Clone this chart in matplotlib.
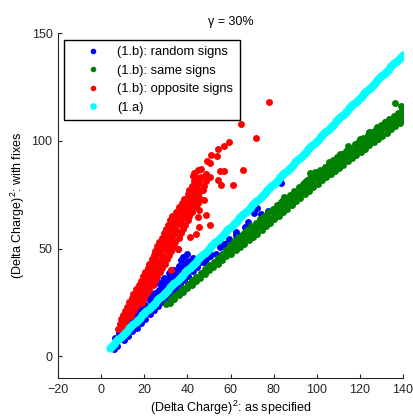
import matplotlib.pyplot as plt

plt.rcParams['font.family'] = ['Liberation Sans', 'DejaVu Sans']
plt.rcParams['mathtext.fontset'] = 'custom'
plt.rcParams['mathtext.rm'] = 'Liberation Sans'

# (1.b): random signs  -- (x, y) pairs
random_pts = [
    (6.0, 3.5), (7.5, 5.0), (6.5, 8.5), (8.5, 11.0), (10.5, 13.4), (12.5, 15.6),
    (14.5, 17.8), (16.5, 19.6), (18.5, 21.9), (20.5, 23.7), (22.5, 26.0), (24.5, 27.8),
    (26.5, 29.9), (28.5, 32.2), (30.5, 33.8), (32.5, 36.1), (34.5, 38.0), (36.5, 40.2),
    (38.5, 41.9), (40.5, 44.3), (42.5, 45.8),
    (12.4, 17.5), (15.5, 21.5), (17.8, 24.5), (20.1, 27.0), (22.5, 29.5), (24.7, 33.5),
    (26.0, 34.5), (27.8, 33.0), (29.0, 36.5), (30.9, 36.1), (32.5, 39.9), (34.0, 40.0),
    (35.6, 50.0), (37.0, 44.5), (39.4, 43.0), (33.0, 37.5), (36.0, 42.0), (38.0, 46.0),
    (40.0, 47.5), (27.0, 31.0), (25.0, 29.5), (23.0, 27.5), (31.5, 38.5), (28.5, 34.8),
    (10.5, 7.7), (12.5, 9.4), (14.5, 11.6), (16.5, 13.4), (18.5, 15.5), (20.5, 17.4),
    (22.5, 19.6), (24.5, 21.4), (26.5, 23.5), (28.5, 25.4), (30.5, 27.6), (32.5, 29.4),
    (34.5, 31.5), (36.5, 33.4), (38.5, 35.6), (40.5, 37.4), (42.5, 39.5), (44.5, 41.4),
    (46.5, 43.6), (48.5, 45.4), (50.5, 47.5),
    (47.9, 44.0), (50.3, 46.5), (53.4, 47.7), (54.9, 50.8), (57.2, 52.3), (58.8, 53.1),
    (59.5, 54.5), (62.6, 56.2), (62.6, 57.8), (65.0, 55.7), (66.5, 60.0), (68.0, 62.5),
    (71.1, 66.7), (72.2, 68.9), (71.6, 60.4), (74.0, 66.0), (77.6, 67.3), (84.3, 72.5),
    (83.5, 80.5),
]

# (1.b): same signs
same_pts = [
    (30.0, 24.2), (32.0, 25.0), (32.2, 26.8), (34.0, 26.7), (34.1, 28.4),
    (36.0, 28.3), (36.2, 30.1), (38.0, 30.0), (38.1, 31.9), (40.0, 31.6), (40.2, 33.5),
    (42.0, 33.3), (42.1, 35.3), (44.0, 35.0), (44.2, 37.0), (46.0, 36.6), (46.1, 38.7),
    (48.0, 38.2), (48.2, 40.5), (50.0, 39.9), (50.1, 42.2), (52.0, 41.5), (52.2, 44.0),
    (54.0, 43.1), (54.1, 45.8), (56.0, 44.8), (56.2, 47.5), (58.0, 46.5), (58.1, 49.2),
    (60.4, 47.6), (60.0, 49.8), (59.6, 51.9), (62.4, 49.2), (62.0, 51.4), (61.6, 53.6),
    (64.4, 50.8), (64.0, 53.0), (63.6, 55.3), (66.4, 52.2), (66.0, 54.6), (65.6, 57.0),
    (68.4, 53.8), (68.0, 56.2), (67.6, 58.6), (70.4, 55.4), (70.0, 57.8), (69.6, 60.3),
    (72.4, 57.0), (72.0, 59.5), (71.6, 61.9), (74.4, 58.7), (74.0, 61.1), (73.6, 63.6),
    (76.4, 60.3), (76.0, 62.8), (75.6, 65.2), (78.4, 62.0), (78.0, 64.4), (77.6, 66.8),
    (80.4, 63.6), (80.0, 66.0), (79.6, 68.5), (82.4, 65.3), (82.0, 67.7), (81.6, 70.1),
    (84.4, 66.9), (84.0, 69.4), (83.6, 71.8), (86.4, 68.6), (86.0, 71.0), (85.6, 73.4),
    (88.4, 70.2), (88.0, 72.7), (87.6, 75.1), (90.4, 71.9), (90.0, 74.3), (89.6, 76.7),
    (92.4, 73.5), (92.0, 76.0), (91.6, 78.4), (94.4, 75.2), (94.0, 77.6), (93.6, 80.0),
    (96.4, 76.8), (96.0, 79.3), (95.6, 81.7), (98.4, 78.5), (98.0, 80.9), (97.6, 83.3),
    (100.4, 80.1), (100.0, 82.6), (99.6, 85.0), (102.4, 81.6), (102.0, 84.0), (101.6, 86.4),
    (104.4, 83.1), (104.0, 85.5), (103.6, 87.9), (106.4, 84.6), (106.0, 87.0), (105.6, 89.4),
    (108.4, 86.1), (108.0, 88.5), (107.6, 90.9), (110.4, 87.6), (110.0, 90.0), (109.6, 92.4),
    (112.4, 89.0), (112.0, 91.4), (111.6, 93.8), (114.4, 90.5), (114.0, 92.9), (113.6, 95.3),
    (116.4, 92.0), (116.0, 94.4), (115.6, 96.8), (118.4, 93.5), (118.0, 95.9), (117.6, 98.3),
    (120.4, 95.0), (120.0, 97.4), (119.6, 99.8), (122.4, 96.4), (122.0, 98.8), (121.6, 101.2),
    (124.4, 97.9), (124.0, 100.3), (123.6, 102.7), (126.4, 99.4), (126.0, 101.8), (125.6, 104.2),
    (128.4, 100.9), (128.0, 103.3), (127.6, 105.7), (130.4, 102.4), (130.0, 104.8), (129.6, 107.2),
    (132.4, 103.8), (132.0, 106.2), (131.6, 108.6), (134.4, 105.3), (134.0, 107.7), (133.6, 110.1),
    (136.4, 106.8), (136.0, 109.2), (135.6, 111.6), (138.4, 108.3), (138.0, 110.7), (137.6, 113.1),
    (140.2, 109.8), (140.0, 112.2), (139.6, 114.6),
    (66.8, 57.7), (85.0, 74.0), (94.7, 81.1), (97.0, 82.8), (96.7, 85.1), (99.3, 85.5),
    (105.6, 90.2), (111.0, 93.8), (114.5, 97.5), (119.9, 101.0), (136.4, 117.7),
    (139.0, 116.0), (140.2, 114.8), (128.0, 106.5), (124.0, 104.0), (131.5, 108.5),
]

# (1.b): opposite signs
opposite_pts = [
    (7.6, 12.8), (9.4, 13.4), (8.6, 15.2), (10.6, 15.0), (9.3, 17.2), (11.4, 17.0),
    (10.1, 19.1), (12.0, 19.3), (13.8, 18.8), (11.0, 21.2), (13.1, 20.9), (15.0, 21.3),
    (12.1, 23.0), (14.0, 23.3), (16.1, 22.8), (13.0, 25.1), (15.1, 24.8), (17.0, 25.3),
    (18.8, 25.0), (14.1, 27.2), (16.0, 26.9), (18.1, 27.1), (20.0, 27.3), (15.0, 29.0),
    (17.1, 29.3), (19.0, 28.8), (21.1, 29.2), (16.4, 31.1), (18.6, 30.8), (20.5, 31.3),
    (22.4, 31.0), (17.5, 33.2), (19.4, 32.9), (21.6, 33.1), (23.9, 33.3), (18.4, 35.0),
    (20.6, 35.3), (22.5, 34.8), (24.9, 35.1), (19.6, 37.1), (21.4, 36.8), (23.6, 37.2),
    (25.9, 37.0), (20.4, 39.2), (22.6, 38.9), (24.4, 39.1), (27.1, 39.3), (21.6, 41.0),
    (23.4, 41.3), (26.1, 40.8), (28.4, 41.1), (22.4, 43.1), (24.6, 42.8), (27.1, 43.2),
    (29.6, 43.0), (23.6, 45.2), (25.4, 44.9), (28.1, 45.1), (30.4, 45.3), (24.4, 47.0),
    (26.6, 47.3), (28.9, 46.8), (31.6, 47.1), (25.1, 49.1), (27.4, 48.8), (30.1, 49.2),
    (32.4, 49.0), (26.1, 51.2), (28.6, 50.9), (30.9, 51.1), (33.6, 51.3), (26.9, 53.0),
    (29.4, 53.3), (32.1, 52.8), (34.4, 53.1), (28.1, 55.1), (30.6, 54.8), (32.9, 55.2),
    (36.1, 55.0), (29.0, 57.2), (31.4, 56.9), (34.1, 57.1), (36.9, 57.3), (30.1, 59.0),
    (32.6, 59.3), (34.9, 58.8), (38.1, 59.1), (31.0, 61.1), (33.4, 60.8), (36.1, 61.2),
    (38.9, 61.0), (32.1, 63.2), (34.6, 62.9), (36.9, 63.1), (40.1, 63.3), (33.0, 65.0),
    (35.4, 65.3), (38.1, 64.8), (40.9, 65.1), (34.6, 67.1), (36.9, 66.8), (39.6, 67.2),
    (42.1, 67.0), (36.1, 69.2), (38.4, 68.9), (41.1, 69.1), (43.9, 69.3), (37.6, 71.0),
    (39.9, 71.3), (42.6, 70.8), (45.0, 71.2), (38.4, 73.1), (41.1, 72.9), (43.4, 73.2),
    (46.0, 73.0), (40.1, 75.2), (42.4, 74.9), (45.1, 75.1), (40.9, 77.0), (43.6, 77.3),
    (45.9, 76.8), (42.1, 79.1), (44.4, 78.9), (47.5, 79.0), (42.9, 81.2), (45.6, 80.9),
    (48.5, 81.5), (42.5, 83.5), (44.1, 83.0), (46.4, 83.3), (48.5, 84.5), (43.0, 85.0),
    (32.5, 39.9), (35.6, 50.0), (41.0, 55.4), (44.1, 57.0), (45.6, 60.0), (50.3, 60.8),
    (48.7, 65.5), (44.9, 64.7), (45.6, 68.1), (47.9, 72.5), (47.2, 77.1), (50.3, 83.0),
    (54.1, 81.7), (55.7, 79.4), (61.1, 79.4), (48.7, 84.1), (54.9, 86.1), (57.2, 86.1),
    (66.0, 86.4), (44.9, 86.4), (46.4, 86.7), (49.2, 90.7), (50.3, 89.5), (51.0, 93.6),
    (53.7, 93.0), (54.1, 96.0), (57.2, 97.5), (59.5, 99.5), (65.0, 108.0), (71.9, 101.5),
    (77.7, 117.8),
]

# (1.a)
exact_x = [4, 5, 6, 7, 8, 9, 10, 11, 12, 13, 14, 15, 16, 17, 18, 19, 20, 21, 22, 23, 24,
           25, 26, 27, 28, 29, 30, 31, 32, 33, 34, 35, 36, 37, 38, 39, 40, 41, 42, 43, 44,
           45, 46, 47, 48, 49, 50, 51, 52, 53, 54, 55, 56, 57, 58, 59, 60, 61, 62, 63, 64,
           65, 66, 67, 68, 69, 70, 71, 72, 73, 74, 75, 76, 77, 78, 79, 80, 81, 82, 83, 84,
           85, 86, 87, 88, 89, 90, 91, 92, 93, 94, 95, 96, 97, 98, 99, 100, 101, 102, 103,
           104, 105, 106, 107, 108, 109, 110, 111, 112, 113, 114, 115, 116, 117, 118, 119,
           120, 121, 122, 123, 124, 125, 126, 127, 128, 129, 130, 131, 132, 133, 134, 135,
           136, 137, 138, 139, 140]
exact_y = [4, 5, 6, 7, 8, 9, 10, 11, 12, 13, 14, 15, 16, 17, 18, 19, 20, 21, 22, 23, 24,
           25, 26, 27, 28, 29, 30, 31, 32, 33, 34, 35, 36, 37, 38, 39, 40, 41, 42, 43, 44,
           45, 46, 47, 48, 49, 50, 51, 52, 53, 54, 55, 56, 57, 58, 59, 60, 61, 62, 63, 64,
           65, 66, 67, 68, 69, 70, 71, 72, 73, 74, 75, 76, 77, 78, 79, 80, 81, 82, 83, 84,
           85, 86, 87, 88, 89, 90, 91, 92, 93, 94, 95, 96, 97, 98, 99, 100, 101, 102, 103,
           104, 105, 106, 107, 108, 109, 110, 111, 112, 113, 114, 115, 116, 117, 118, 119,
           120, 121, 122, 123, 124, 125, 126, 127, 128, 129, 130, 131, 132, 133, 134, 135,
           136, 137, 138, 139, 140]

labels = ['(1.b): random signs', '(1.b): same signs', '(1.b): opposite signs', '(1.a)']
colors = ['#0000ff', '#008000', '#ff0000', '#00ffff']

fig = plt.figure(figsize=(4.13, 4.19), dpi=100)
ax = fig.add_axes([58 / 413, 41 / 419, 345 / 413, 345 / 419])

for pts, lab, col in zip([random_pts, same_pts, opposite_pts], labels[:3], colors[:3]):
    xs, ys = zip(*pts)
    ax.plot(xs, ys, 'o', ms=5.0, mew=0, color=col, label=lab)
ax.plot(exact_x, exact_y, 'o', ms=6.0, mew=0, color=colors[3], label=labels[3])

ax.set_xlim(-20, 140)
ax.set_ylim(-10, 150)
ax.set_xticks(range(-20, 141, 20))
ax.set_yticks([0, 50, 100, 150])
ax.spines['top'].set_visible(False)
ax.spines['right'].set_visible(False)
for s in ['left', 'bottom']:
    ax.spines[s].set_color('#262626')
    ax.spines[s].set_linewidth(0.8)
ax.tick_params(direction='in', length=3, width=0.8, labelsize=9, colors='#262626')
ax.tick_params(axis='x', pad=4)
ax.tick_params(axis='y', pad=4)

ax.set_title('\u03b3 = 30%', fontsize=9, pad=6)
ax.set_xlabel('(Delta Charge)$\\mathregular{^2}$: as specified', fontsize=9, labelpad=2)
ax.set_ylabel('(Delta Charge)$\\mathregular{^2}$: with fixes', fontsize=9, labelpad=3)

leg = ax.legend(loc='upper left', bbox_to_anchor=(0.017, 0.98), borderaxespad=0,
                fontsize=9.3, frameon=True, fancybox=False, framealpha=1,
                edgecolor='black', handlelength=3.5, handletextpad=0.15,
                labelspacing=0.5, borderpad=0.5, markerscale=0.8)
leg.get_frame().set_linewidth(1.0)

fig.savefig('out.png', dpi=100)
